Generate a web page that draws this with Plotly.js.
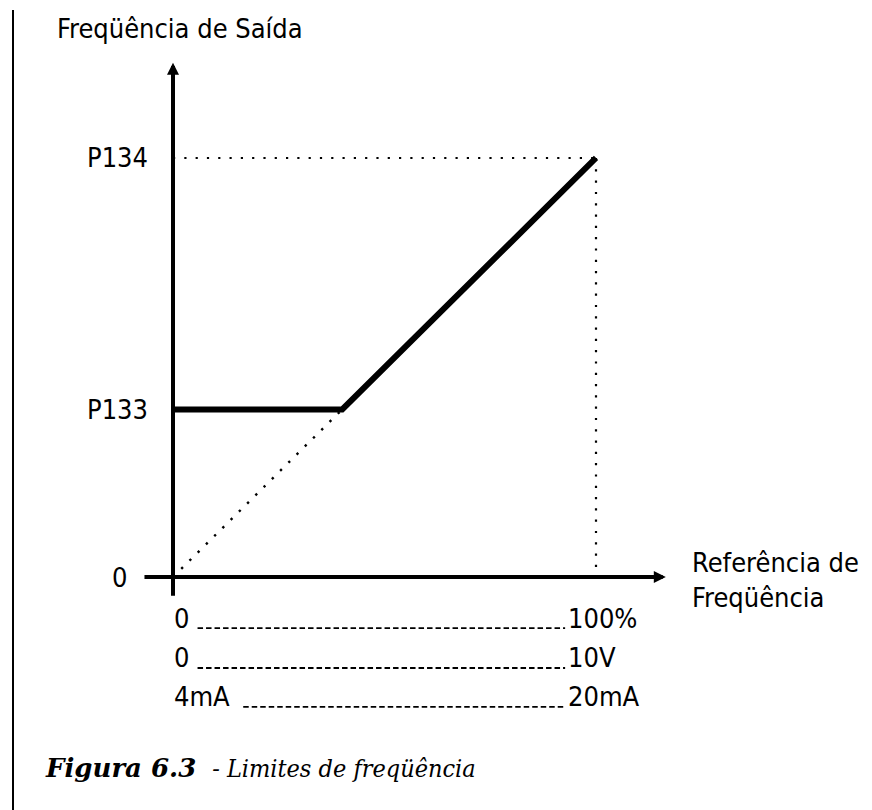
<!DOCTYPE html>
<html>
<head>
<meta charset="utf-8">
<script src="https://cdn.plot.ly/plotly-3.0.1.min.js"></script>
<style>
  html, body { margin: 0; padding: 0; background: #fff; }
  #chart { width: 872px; height: 810px; }
</style>
</head>
<body>
<div id="chart"></div>
<script>
// reference input in % of full scale, output frequency in % of P134
var refPct = [0, 40, 100];
var outFreq = [40, 40, 100];
var P133 = 40;
var P134 = 100;

// labels on the frequency axis
var yTickVals = [0, P133, P134];
var yTickText = ['0', 'P133', 'P134'];

// the three input scales under the x axis
var scaleStart = ['0', '0', '4mA'];
var scaleEnd = ['100%', '10V', '20mA'];
var scaleRowY = [-12.2, -21.7, -31.0];
var scaleDashFrom = [5.8, 5.8, 16.6];

var sans = 'Liberation Sans Narrow, DejaVu Sans Condensed, Arial Narrow, sans-serif';
var serif = 'DejaVu Serif, serif';

var traces = [];

// dotted guides to P134
traces.push({
  x: [0, 100], y: [P134, P134],
  mode: 'lines', hoverinfo: 'skip',
  line: {color: 'black', width: 2.2, dash: '2.2px,9.1px'}
});
traces.push({
  x: [100, 100], y: [P134, 1.5],
  mode: 'lines', hoverinfo: 'skip',
  line: {color: 'black', width: 2.2, dash: '2.2px,9.1px'}
});
// dotted ramp from origin to the P133 kink
traces.push({
  x: [0, refPct[1]], y: [0, outFreq[1]],
  mode: 'lines', hoverinfo: 'skip',
  line: {color: 'black', width: 2.4, dash: '2.4px,9.2px'}
});

// dashed lines for the input scales
for (var i = 0; i < scaleRowY.length; i++) {
  traces.push({
    x: [scaleDashFrom[i], 92.7], y: [scaleRowY[i], scaleRowY[i]],
    mode: 'lines', hoverinfo: 'skip',
    line: {color: 'black', width: 1.9, dash: '5.5px,3px'}
  });
}

// the limited frequency curve
traces.push({
  x: refPct, y: outFreq,
  mode: 'lines', hoverinfo: 'skip',
  line: {color: 'black', width: 6}
});

var ann = [];

// axes as arrows
ann.push({
  x: 116.5, y: 0, ax: -7.1, ay: 0, axref: 'x', ayref: 'y',
  showarrow: true, arrowhead: 2, arrowsize: 0.6, arrowwidth: 4,
  arrowcolor: 'black', standoff: 0, text: ''
});
ann.push({
  x: 0, y: 122.7, ax: 0, ay: -4.8, axref: 'x', ayref: 'y',
  showarrow: true, arrowhead: 2, arrowsize: 0.6, arrowwidth: 4,
  arrowcolor: 'black', standoff: 0, text: ''
});

// frequency axis labels
for (var j = 0; j < yTickVals.length; j++) {
  ann.push({
    x: yTickVals[j] === 0 ? -10.3 : -5.5, y: yTickVals[j],
    xanchor: 'right', yanchor: 'middle', showarrow: false,
    text: yTickText[j], font: {family: sans, size: 27, color: 'black'}
  });
}

// input scale labels
for (var k = 0; k < scaleRowY.length; k++) {
  ann.push({
    x: -0.3, y: scaleRowY[k] + 2.4,
    xanchor: 'left', yanchor: 'middle', showarrow: false,
    text: scaleStart[k], font: {family: sans, size: 27, color: 'black'}
  });
  ann.push({
    x: 93.0, y: scaleRowY[k] + 2.4,
    xanchor: 'left', yanchor: 'middle', showarrow: false,
    text: scaleEnd[k], font: {family: sans, size: 27, color: 'black'}
  });
}

// axis titles
ann.push({
  x: -27.8, y: 130.8, xanchor: 'left', yanchor: 'middle', showarrow: false,
  text: 'Freqüência de Saída', font: {family: sans, size: 27, color: 'black'}
});
ann.push({
  x: 122.3, y: -0.6, xanchor: 'left', yanchor: 'middle', showarrow: false,
  align: 'left',
  text: 'Referência de<br>Freqüência', font: {family: sans, size: 27, color: 'black'}
});

// figure caption
ann.push({
  xref: 'paper', yref: 'paper', x: 43 / 872, y: 1 - 768 / 810,
  xanchor: 'left', yanchor: 'middle', showarrow: false,
  text: '<b><i>Figura 6.3</i></b>',
  font: {family: serif, size: 26, color: 'black'}
});
ann.push({
  xref: 'paper', yref: 'paper', x: 203 / 872, y: 1 - 768 / 810,
  xanchor: 'left', yanchor: 'middle', showarrow: false,
  text: '<i> - Limites de freqüência</i>',
  font: {family: 'DejaVu Serif Condensed, DejaVu Serif, serif', size: 25, color: 'black'}
});

var layout = {
  width: 872, height: 810, autosize: false,
  margin: {l: 0, r: 0, t: 0, b: 0},
  paper_bgcolor: 'white', plot_bgcolor: 'white',
  showlegend: false,
  xaxis: {range: [-40.9, 165.25], visible: false, fixedrange: true},
  yaxis: {range: [-55.6, 137.7], visible: false, fixedrange: true},
  annotations: ann,
  shapes: [{
    type: 'line', xref: 'paper', yref: 'paper',
    x0: 13 / 872, x1: 13 / 872, y0: 0, y1: 1 - 10 / 810,
    line: {color: 'black', width: 2}
  }]
};

Plotly.newPlot('chart', traces, layout, {displayModeBar: false, staticPlot: true});
</script>
</body>
</html>
